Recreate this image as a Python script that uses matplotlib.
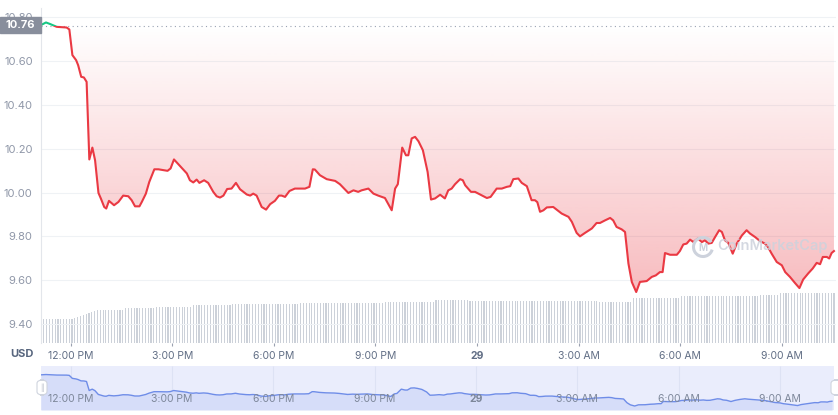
import numpy as np
import matplotlib
matplotlib.use("Agg")
import matplotlib.pyplot as plt
import matplotlib.transforms as mtransforms
from matplotlib.patches import Rectangle, FancyBboxPatch, Arc

plt.rcParams['font.family'] = ['Inter', 'DejaVu Sans']

# price samples, hours measured from 12:00 PM on the 28th
hours = [
    -0.88, -0.73, -0.61, -0.41, -0.12, -0.04, 0.05, 0.16, 0.22, 0.31,
    0.39, 0.47, 0.55, 0.64, 0.72, 0.82, 0.89, 0.99, 1.05, 1.13,
    1.28, 1.41, 1.55, 1.70, 1.80, 1.90, 2.03, 2.10, 2.22, 2.32,
    2.47, 2.59, 2.86, 2.95, 3.05, 3.18, 3.43, 3.52, 3.62, 3.72,
    3.80, 3.94, 4.06, 4.21, 4.31, 4.41, 4.51, 4.62, 4.75, 4.88,
    5.00, 5.20, 5.30, 5.39, 5.49, 5.64, 5.77, 5.89, 6.03, 6.15,
    6.23, 6.33, 6.46, 6.62, 6.92, 7.05, 7.15, 7.21, 7.36, 7.56,
    7.81, 7.95, 8.20, 8.35, 8.49, 8.59, 8.79, 8.94, 9.08, 9.28,
    9.48, 9.58, 9.66, 9.79, 9.90, 9.97, 10.07, 10.17, 10.27, 10.40,
    10.54, 10.64, 10.76, 10.91, 11.05, 11.15, 11.25, 11.35, 11.50, 11.58,
    11.65, 11.82, 11.94, 12.09, 12.29, 12.40, 12.58, 12.73, 12.88, 12.98,
    13.07, 13.22, 13.32, 13.47, 13.61, 13.71, 13.78, 13.86, 13.96, 14.06,
    14.25, 14.35, 14.50, 14.70, 14.80, 14.94, 15.04, 15.19, 15.39, 15.53,
    15.63, 15.78, 15.93, 16.02, 16.12, 16.27, 16.37, 16.47, 16.57, 16.70,
    16.81, 17.01, 17.16, 17.28, 17.40, 17.48, 17.55, 17.70, 17.80, 17.90,
    17.99, 18.09, 18.19, 18.29, 18.39, 18.52, 18.64, 18.73, 18.83, 18.93,
    19.03, 19.15, 19.23, 19.32, 19.42, 19.55, 19.67, 19.82, 19.96, 20.06,
    20.21, 20.36, 20.50, 20.60, 20.70, 20.85, 21.00, 21.10, 21.24, 21.39,
    21.52, 21.63, 21.78, 21.91, 22.03, 22.13, 22.21, 22.33, 22.40, 22.47,
    22.54,
]
prices = [
    10.764, 10.776, 10.769, 10.756, 10.753, 10.744, 10.627, 10.604, 10.581, 10.528,
    10.525, 10.505, 10.151, 10.205, 10.147, 9.998, 9.973, 9.934, 9.927, 9.962,
    9.942, 9.957, 9.986, 9.983, 9.965, 9.937, 9.937, 9.957, 9.995, 10.048,
    10.106, 10.106, 10.099, 10.110, 10.151, 10.129, 10.087, 10.056, 10.046, 10.059,
    10.044, 10.056, 10.044, 10.003, 9.983, 9.977, 9.986, 10.016, 10.018, 10.044,
    10.015, 9.991, 9.986, 9.995, 9.986, 9.934, 9.922, 9.947, 9.962, 9.986,
    9.986, 9.980, 10.007, 10.018, 10.018, 10.026, 10.106, 10.105, 10.079, 10.061,
    10.053, 10.038, 9.998, 10.010, 10.003, 10.010, 10.018, 9.995, 9.986, 9.975,
    9.919, 10.018, 10.038, 10.205, 10.170, 10.170, 10.247, 10.254, 10.234, 10.193,
    10.094, 9.968, 9.973, 9.990, 9.973, 10.010, 10.018, 10.038, 10.061, 10.056,
    10.033, 10.003, 10.003, 9.991, 9.975, 9.980, 10.018, 10.018, 10.026, 10.029,
    10.061, 10.064, 10.044, 10.029, 9.965, 9.965, 9.956, 9.912, 9.919, 9.932,
    9.934, 9.922, 9.904, 9.889, 9.866, 9.816, 9.800, 9.816, 9.836, 9.861,
    9.861, 9.873, 9.884, 9.873, 9.843, 9.832, 9.820, 9.676, 9.592, 9.546,
    9.592, 9.596, 9.615, 9.622, 9.637, 9.637, 9.724, 9.716, 9.716, 9.716,
    9.733, 9.763, 9.767, 9.785, 9.774, 9.790, 9.774, 9.782, 9.767, 9.770,
    9.797, 9.828, 9.820, 9.782, 9.770, 9.721, 9.767, 9.804, 9.828, 9.813,
    9.797, 9.778, 9.767, 9.749, 9.721, 9.683, 9.668, 9.637, 9.615, 9.587,
    9.564, 9.603, 9.631, 9.653, 9.679, 9.673, 9.706, 9.706, 9.699, 9.724,
    9.733,
]
open_price = 10.76

# volume bars (5 minute bars), read as plateaus: level and number of bars
vol_levels = [24, 25, 26, 27, 28, 29, 30, 31, 32, 33, 35, 36, 38, 39, 40,
              41.5, 43, 42.5, 41.5, 45, 47, 48.5, 50]
vol_counts = [12, 1, 1, 1, 1, 1, 1, 1, 1, 10, 11, 13, 14, 24, 30,
              18, 12, 46, 12, 17, 28, 7, 20]

tick_hours = [0, 3, 6, 9, 12, 15, 18, 21]
tick_labels = ["12:00 PM", "3:00 PM", "6:00 PM", "9:00 PM", "29",
               "3:00 AM", "6:00 AM", "9:00 AM"]
y_ticks = [9.40, 9.60, 9.80, 10.00, 10.20, 10.40, 10.60, 10.80]

W, H = 838, 415
fig = plt.figure(figsize=(W / 100, H / 100), dpi=100)

x0, x1 = -0.877, 22.60
ylo, yhi = 9.312, 10.842
red = '#ea3943'
green = '#16c784'

main_rect = [41 / W, (H - 343.3) / H, 795 / W, 335.3 / H]

# volume layer underneath
ax_vol = fig.add_axes(main_rect)
volume = np.repeat(vol_levels, vol_counts)
vol_hours = x0 + np.arange(len(volume)) / 12
ax_vol.bar(vol_hours, volume, width=0.034, color='#ccd1d9', linewidth=0)
ax_vol.set_xlim(x0, x1)
ax_vol.set_ylim(0, max(vol_levels) * 6.7)
ax_vol.axis('off')

# price layer
ax = fig.add_axes(main_rect)
ax.patch.set_visible(False)

poly = ax.fill_between(hours, prices, open_price, color='none', linewidth=0)
grad = np.zeros((256, 1, 4))
grad[:, 0, 0] = 234 / 255
grad[:, 0, 1] = 57 / 255
grad[:, 0, 2] = 67 / 255
grad[:, 0, 3] = np.linspace(0.34, 0.0, 256)
im = ax.imshow(grad, extent=[x0, x1, 9.54, open_price], origin='lower',
               aspect='auto', interpolation='bilinear', zorder=1)
im.set_clip_path(poly.get_paths()[0], transform=ax.transData)

line_red, = ax.plot(hours, prices, color=red, lw=1.5, zorder=3,
                    solid_joinstyle='round')
line_green, = ax.plot(hours, prices, color=green, lw=1.5, zorder=3,
                      solid_joinstyle='round')
line_red.set_clip_path(Rectangle((x0, ylo), x1 - x0, open_price - ylo,
                                 transform=ax.transData))
line_green.set_clip_path(Rectangle((x0, open_price), x1 - x0, 1.0,
                                   transform=ax.transData))

ax.axhline(open_price, color='#9aa3b3', lw=0.8, ls=(0, (1, 3)), zorder=2)

ax.set_xlim(x0, x1)
ax.set_ylim(ylo, yhi)
ax.set_yticks(y_ticks)
ax.set_yticklabels([f"{v:.2f}" for v in y_ticks])
ax.yaxis.grid(True, color='#eff2f5', lw=0.8)
ax.set_axisbelow(True)
ax.tick_params(axis='y', length=0, pad=6, labelsize=8, labelcolor='#8f97a8')
ax.set_xticks(tick_hours)
ax.set_xticklabels(tick_labels)
ax.tick_params(axis='x', length=2.5, width=0.8, color='#9aa1b0', pad=3,
               labelsize=7.5, labelcolor='#616e85')
for lbl in ax.get_xticklabels():
    if lbl.get_text() == "29":
        lbl.set_fontweight('bold')
for s in ['top', 'right', 'bottom']:
    ax.spines[s].set_visible(False)
ax.spines['left'].set_color('#e3e6eb')
ax.spines['left'].set_linewidth(0.8)

# current price tag on the left
fig.patches.append(Rectangle((0, (H - 33.3) / H), 41 / W, 16 / H,
                             transform=fig.transFigure, color='#888e9c',
                             zorder=5))
fig.text(20.5 / W, (H - 25.3) / H, "10.76", color='white', fontsize=8,
         fontweight='bold', ha='center', va='center', zorder=6)

fig.text(21.5 / W, (H - 354) / H, "USD", color='#58667e', fontsize=8,
         fontweight='bold', ha='center', va='center')

# watermark
fig.patches.append(Arc((703 / W, (H - 247) / H), 19 / W, 19 / H,
                       theta1=50, theta2=330, transform=fig.transFigure,
                       color='#cdd2dc', lw=2.2, zorder=4))
fig.text(703 / W, (H - 248) / H, "M", color='#cdd2dc', fontsize=7,
         fontweight='bold', ha='center', va='center', zorder=4)
fig.text(717 / W, (H - 246) / H, "CoinMarketCap", color='#cdd2dc',
         fontsize=10.5, fontweight='semibold', ha='left', va='center',
         alpha=0.85, zorder=4)

# navigator strip
nav = fig.add_axes([41 / W, 5 / H, 793 / W, 44 / H])
nav.set_facecolor('#eaedfc')
nav_lo, nav_hi = 9.39, 11.11
nav.fill_between(hours, prices, nav_lo, color='#d6ddf9', linewidth=0)
nav.plot(hours, prices, color='#6f8de8', lw=1.0)
nav.vlines(tick_hours, nav_lo, nav_hi, color='#dde2f4', lw=0.8, zorder=0)
trans = mtransforms.blended_transform_factory(nav.transData, nav.transAxes)
for th, tl in zip(tick_hours, tick_labels):
    nav.text(th, 0.25, tl, transform=trans, ha='center', va='center',
             fontsize=7.5, color='#7d879a',
             fontweight='bold' if tl == "29" else 'normal')
nav.set_xlim(x0, x1)
nav.set_ylim(nav_lo, nav_hi)
nav.set_xticks([])
nav.set_yticks([])
for s in nav.spines.values():
    s.set_visible(False)

# navigator handles
for hx in (37, 831):
    fig.patches.append(FancyBboxPatch((hx / W, (H - 395) / H), 10 / W, 15 / H,
                                      boxstyle='round,pad=0,rounding_size=0.008',
                                      transform=fig.transFigure,
                                      facecolor='white', edgecolor='#cfd4de',
                                      lw=0.8, zorder=5))
fig.text(42 / W, (H - 387.5) / H, "||", color='#b0b6c3', fontsize=5,
         ha='center', va='center', zorder=6)

fig.savefig("out.png", dpi=100)
